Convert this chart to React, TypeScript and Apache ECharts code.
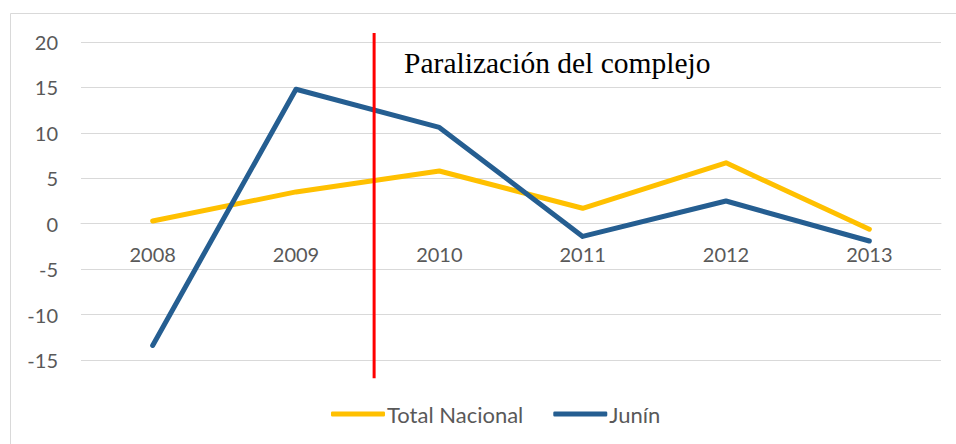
import React, { useEffect, useRef } from "react";
import * as echarts from "echarts";

const years = ["2008", "2009", "2010", "2011", "2012", "2013"];
const totalNacional = [0.3, 3.5, 5.8, 1.7, 6.7, -0.6];
const junin = [-13.4, 14.8, 10.6, -1.4, 2.5, -1.9];
const seriesNames = ["Total Nacional", "Junín"];
const yMin = -15;
const yMax = 20;
const yInterval = 5;
const annotationText = "Paralización del complejo";
// break marker position on the category axis (between 2009 and 2010)
const breakIndex = 1.545;
const breakTop = 21;
const breakBottom = -17;

export default function App() {
  const ref = useRef<HTMLDivElement>(null);
  useEffect(() => {
    if (!ref.current) return;
    const chart = echarts.init(ref.current, null, { renderer: "svg" });
    const font = "Lato, 'Noto Sans', sans-serif";
    chart.setOption({
      animation: false,
      backgroundColor: "#ffffff",
      grid: { left: 81, right: 15, top: 42, bottom: 84, containLabel: false },
      legend: {
        data: seriesNames,
        top: 398,
        left: 326,
        icon: "roundRect",
        itemWidth: 54,
        itemHeight: 5,
        itemGap: 30,
        textStyle: { fontFamily: font, fontSize: 22, color: "#595959", padding: [0, 0, 0, -3] },
      },
      xAxis: {
        type: "category",
        data: years,
        boundaryGap: true,
        axisLine: { show: true, onZero: false, lineStyle: { color: "#D9D9D9", width: 1 } },
        axisTick: { show: false },
        axisLabel: { margin: 20, fontFamily: font, fontSize: 20, color: "#595959" },
      },
      yAxis: {
        type: "value",
        min: yMin,
        max: yMax,
        interval: yInterval,
        axisLine: { show: false },
        axisTick: { show: false },
        splitLine: { lineStyle: { color: "#D9D9D9", width: 1 } },
        axisLabel: { margin: 23, fontFamily: font, fontSize: 20, color: "#595959" },
      },
      series: [
        {
          name: seriesNames[0],
          type: "line",
          data: totalNacional,
          symbol: "none",
          color: "#FFC000",
          lineStyle: { width: 5, color: "#FFC000", cap: "round", join: "round" },
        },
        {
          name: seriesNames[1],
          type: "line",
          data: junin,
          symbol: "none",
          color: "#255E91",
          lineStyle: { width: 5, color: "#255E91", cap: "round", join: "round" },
        },
      ],
    });
    const x1 = chart.convertToPixel({ xAxisIndex: 0 }, Math.floor(breakIndex)) as number;
    const x2 = chart.convertToPixel({ xAxisIndex: 0 }, Math.ceil(breakIndex)) as number;
    const bx = x1 + (x2 - x1) * (breakIndex - Math.floor(breakIndex));
    const yTop = chart.convertToPixel({ yAxisIndex: 0 }, breakTop) as number;
    const yBot = chart.convertToPixel({ yAxisIndex: 0 }, breakBottom) as number;
    const yZero = chart.convertToPixel({ yAxisIndex: 0 }, 0) as number;
    const yMinPx = chart.convertToPixel({ yAxisIndex: 0 }, yMin) as number;
    chart.setOption({
      xAxis: { offset: yZero - yMinPx },
      graphic: [
        {
          type: "rect",
          shape: { x: 10.5, y: 13.5, width: 1000, height: 500 },
          style: { fill: "none", stroke: "#D9D9D9", lineWidth: 1 },
          silent: true,
          z: 0,
        },
        {
          type: "line",
          shape: { x1: bx, y1: yTop, x2: bx, y2: yBot },
          style: { stroke: "#FF0000", lineWidth: 3 },
          z: 100,
        },
        {
          type: "text",
          x: bx + 30,
          y: 63,
          style: {
            text: annotationText,
            font: "29.5px 'Liberation Serif', 'Times New Roman', serif",
            fill: "#000000",
            textVerticalAlign: "middle",
            textAlign: "left",
          },
          z: 100,
        },
      ],
    });
    return () => chart.dispose();
  }, []);
  return (
    <div
      ref={ref}
      style={{ position: "fixed", left: 0, top: 0, width: 956, height: 444 }}
    />
  );
}
